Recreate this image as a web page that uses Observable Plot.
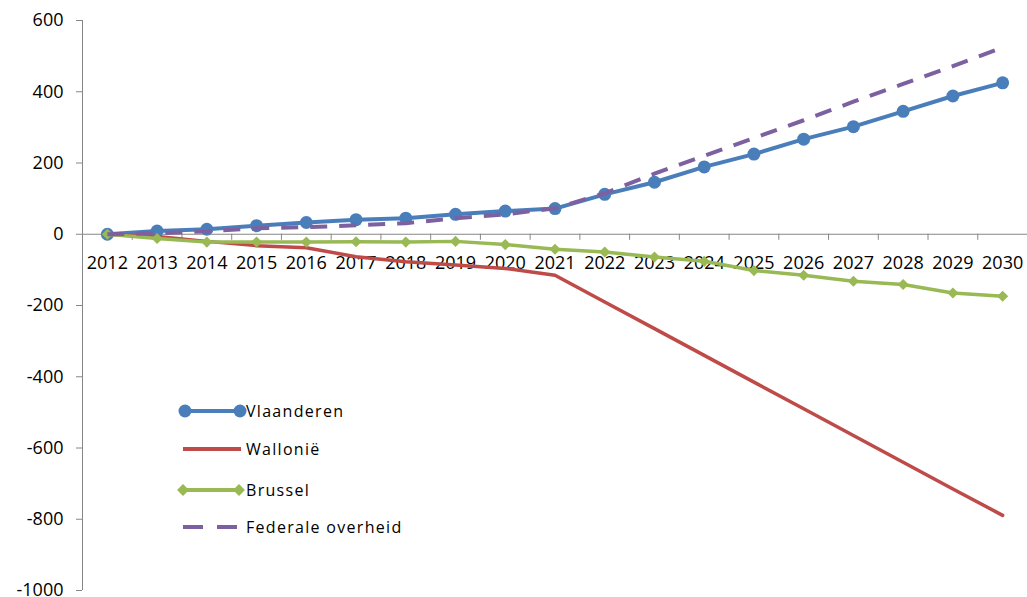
<!DOCTYPE html>
<html><head><meta charset="utf-8">
<script src="https://cdn.jsdelivr.net/npm/d3@7"></script>
<script src="https://cdn.jsdelivr.net/npm/@observablehq/plot@0.6"></script>
<style>
body{margin:0;background:#fff;}
#wrap{position:relative;width:1027px;height:597px;overflow:hidden;}
#legend{position:absolute;left:0;top:0;font-family:"Open Sans",sans-serif;font-size:16px;letter-spacing:1.3px;color:#000;}
.row{position:absolute;left:176px;height:26px;display:flex;align-items:center;white-space:nowrap;}
.row svg{display:block;margin-right:0;}
</style></head><body><div id="wrap"><div id="legend"></div></div>
<script>
const years = [2012,2013,2014,2015,2016,2017,2018,2019,2020,2021,2022,2023,2024,2025,2026,2027,2028,2029,2030];
const vlaanderen = [0,9,14,24,33,41,45,56,65,72,112,146,189,225,267,302,345,388,425];
const wallonie = [0,-6,-20,-32,-38,-63,-77,-86,-96,-115,-190,-265,-340,-415,-490,-565,-640,-715,-789];
const brussel = [0,-12,-22,-22,-22,-21,-22,-20,-29,-42,-50,-64,-76,-102,-115,-132,-141,-165,-174];
const federaal = [0,3,8,17,20,25,31,45,56,73,115,170,220,270,320,372,422,472,524];
const yTicks = [-1000,-800,-600,-400,-200,0,200,400,600];
const seriesNames = ["Vlaanderen","Wallonië","Brussel","Federale overheid"];
const colors = {blue:"#4A7EBB", red:"#BE4B48", green:"#98B954", purple:"#7D60A0"};

const rows = (vals) => years.map((yr, i) => ({year: yr, value: vals[i]}));
const tickBounds = years.map(y => y - 0.5).concat([years[years.length-1] + 0.5]);

const chart = Plot.plot({
  width: 1027, height: 597,
  marginLeft: 82, marginRight: 0, marginTop: 20, marginBottom: 7,
  style: {fontFamily: "Open Sans, sans-serif", fontSize: "18px", color: "#000", background: "#fff"},
  x: {type: "linear", domain: [years[0] - 0.5, years[years.length-1] + 0.5], axis: null},
  y: {domain: [-1000, 600], axis: null},
  marks: [
    Plot.ruleY([0], {stroke: "#868686", strokeWidth: 1}),
    Plot.ruleX([years[0] - 0.5], {stroke: "#868686", strokeWidth: 1}),
    Plot.ruleX(tickBounds, {x: d => d, y1: 0, y2: -17, stroke: "#868686", strokeWidth: 1}),
    Plot.axisY({ticks: yTicks, tickSize: 6, tickPadding: 13, stroke: "#868686", fill: "#000",
      tickFormat: d => String(d), fontSize: 18, letterSpacing: 0.3, label: null}),
    Plot.text(years, {x: d => d, y: 0, text: d => String(d), dy: 29, fill: "#000", fontSize: 18}),
    Plot.line(rows(vlaanderen), {x: "year", y: "value", stroke: colors.blue, strokeWidth: 4}),
    Plot.dot(rows(vlaanderen), {x: "year", y: "value", r: 6.5, fill: colors.blue}),
    Plot.line(rows(wallonie), {x: "year", y: "value", stroke: colors.red, strokeWidth: 3.5}),
    Plot.line(rows(brussel), {x: "year", y: "value", stroke: colors.green, strokeWidth: 3.5}),
    Plot.dot(rows(brussel), {x: "year", y: "value", r: 5, symbol: "diamond2", fill: colors.green}),
    Plot.line(rows(federaal), {x: "year", y: "value", stroke: colors.purple, strokeWidth: 4,
      strokeDasharray: "17,12", strokeLinecap: "butt"})
  ]
});
document.getElementById("wrap").prepend(chart);
chart.style.position = "absolute"; chart.style.left = "0"; chart.style.top = "0";

// Legend
const legend = d3.select("#legend");
const legendTops = [398, 436, 477, 514];
const swatches = [
  s => { s.append("line").attr("x1",8).attr("x2",64).attr("y1",13).attr("y2",13).attr("stroke",colors.blue).attr("stroke-width",4);
         [9,64].forEach(cx => s.append("circle").attr("cx",cx).attr("cy",13).attr("r",6.5).attr("fill",colors.blue)); },
  s => { s.append("line").attr("x1",7).attr("x2",65).attr("y1",13).attr("y2",13).attr("stroke",colors.red).attr("stroke-width",4); },
  s => { s.append("line").attr("x1",7).attr("x2",64).attr("y1",13).attr("y2",13).attr("stroke",colors.green).attr("stroke-width",4);
         [7,63].forEach(cx => s.append("path").attr("d", d3.symbol(d3.symbolDiamond2, 90)()).attr("transform",`translate(${cx},13)`).attr("fill",colors.green)); },
  s => { s.append("line").attr("x1",7).attr("x2",62).attr("y1",13).attr("y2",13).attr("stroke",colors.purple).attr("stroke-width",4).attr("stroke-dasharray","20,14"); }
];
seriesNames.forEach((name, i) => {
  const row = legend.append("div").attr("class","row").style("top", legendTops[i] + "px");
  const svg = row.append("svg").attr("width",70).attr("height",26).style("overflow","visible");
  swatches[i](svg);
  row.append("span").text(name);
});
</script>
</body></html>
